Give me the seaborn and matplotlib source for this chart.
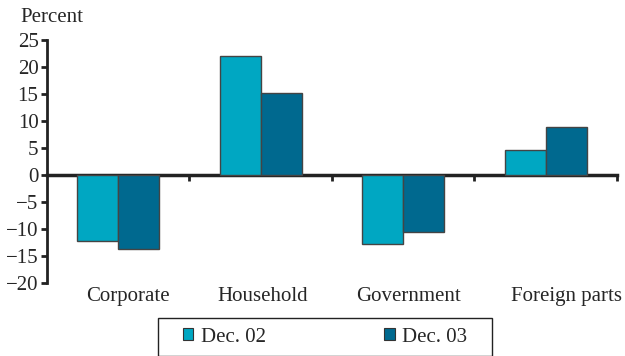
import matplotlib
matplotlib.use("Agg")
import matplotlib.pyplot as plt
import matplotlib.transforms as mtransforms
import seaborn as sns
import pandas as pd
from matplotlib.patches import Patch, Rectangle

sectors = ["Corporate", "Household", "Government", "Foreign parts"]
periods = ["Dec. 02", "Dec. 03"]
dec02 = [-12.3, 22.1, -12.7, 4.6]
dec03 = [-13.7, 15.2, -10.6, 8.9]
colors = ["#00A7C2", "#00698F"]
yticks = [25, 20, 15, 10, 5, 0, -5, -10, -15, -20]

df = pd.DataFrame({
    "sector": sectors * 2,
    "period": [periods[0]] * 4 + [periods[1]] * 4,
    "value": dec02 + dec03,
})

sns.set_style("white")
plt.rcParams["font.family"] = ["Liberation Serif", "DejaVu Serif"]
plt.rcParams["font.size"] = 15

W, H = 625, 356
fig = plt.figure(figsize=(W / 100, H / 100), dpi=100)
ax = fig.add_axes([0.075, 0.205, 0.912, 0.683])

sns.barplot(data=df, x="sector", y="value", hue="period", order=sectors,
            hue_order=periods, palette=colors, saturation=1, width=0.575, ax=ax,
            edgecolor="#444444", linewidth=1.0, legend=False, errorbar=None)

ax.set_xlim(-0.5, len(sectors) - 0.5)
ax.set_ylim(-20, 25)
ax.set_yticks(yticks)
ax.set_xlabel("")
ax.set_ylabel("")

for s in ["top", "right", "bottom"]:
    ax.spines[s].set_visible(False)
ax.spines["left"].set_linewidth(2)
ax.spines["left"].set_color("#222222")
ax.tick_params(axis="y", direction="out", length=4, width=2, color="#222222",
               pad=2, labelsize=15, left=True)
ax.tick_params(axis="x", length=0, pad=3, labelsize=15)

# category labels sit slightly right of their group centres
label_shift_px = [10, 2, 5, 21]
for lbl, dx in zip(ax.get_xticklabels(), label_shift_px):
    lbl.set_transform(lbl.get_transform() +
                      mtransforms.ScaledTranslation(dx / 100, 0, fig.dpi_scale_trans))

# zero line with category separator ticks
ylo, yhi = ax.get_ylim()
zero_frac = (0 - ylo) / (yhi - ylo)
sec = ax.secondary_xaxis(zero_frac)
sec.set_xticks([i + 0.5 for i in range(len(sectors))])
sec.tick_params(axis="x", direction="out", length=4, width=2, color="#222222",
                labelbottom=False, labeltop=False)
sec.spines["bottom"].set_linewidth(2.5)
sec.spines["bottom"].set_color("#222222")

fig.text(20 / W, 1 - 17 / H, "Percent", fontsize=15, ha="left", va="center")

handles = [Patch(facecolor=c, edgecolor="#333333", linewidth=0.8) for c in colors]
leg = fig.legend(handles, periods, loc="center",
                 bbox_to_anchor=(325 / W, 1 - 337 / H),
                 ncol=2, frameon=False, fontsize=15,
                 handlelength=0.5, handleheight=0.5,
                 handletextpad=0.35, columnspacing=5.7, borderpad=0,
                 borderaxespad=0)

# legend box
fig.patches.append(Rectangle((158 / W, 1 - 356 / H), (492 - 158) / W, (356 - 318) / H,
                             transform=fig.transFigure, fill=False,
                             edgecolor="#222222", linewidth=1.0))

fig.savefig("out.png", dpi=100)
